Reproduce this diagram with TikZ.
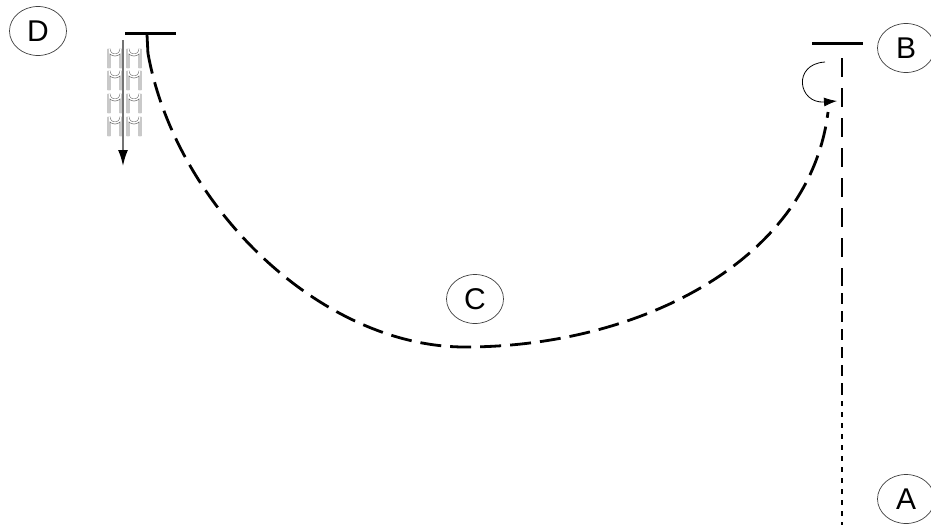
\documentclass[tikz,border=0pt]{standalone}
\usepackage{fontspec}
\setmainfont{Liberation Sans}
\usepackage{tikz}
\usetikzlibrary{arrows.meta,positioning,calc,shapes.geometric}
\tikzset{
  lab/.style={draw=black!75, ellipse, line width=0.7pt, minimum width=57pt, minimum height=49pt, inner sep=0pt, font=\fontsize{30}{30}\selectfont},
  bar/.style={line width=3pt},
  path/.style={line width=2.8pt, dash pattern=on 21pt off 9pt},
  archline/.style={black!60, line width=0.6pt, double=white, double distance=1.4pt}
}
\newcommand{\archpiece}[2]{
\draw[archline] (#1-6,#2+25) -- (#1-6,#2+6) arc (180:0:6) -- (#1+6,#2+25);
}

\begin{document}
\begin{tikzpicture}[x=1pt,y=-1pt]
\useasboundingbox (0,0) rectangle (931,525);
% labels
\node[lab] (D) at (38,31) {D};
\node[lab] (B) at (906,48) {B};
\node[lab] (C) at (475,299) {C};
\node[lab] (A) at (906,499) {A};
% holders
\draw[bar] (125,33) -- (176,33) coordinate[pos=0.43] (dtop);
\draw[bar] (812,43) -- (863,43) coordinate[pos=0.59] (btop);
% swing of the path
\coordinate (low) at (465,347);
\coordinate (rend) at (828,112);
\draw[line width=2.8pt] (dtop) -- ++(1,20) coordinate (dstart);
\draw[path] (dstart) .. controls (175,205) and (320,347) .. (low)
  .. controls (640,347) and (810,260) .. (rend);
% vertical drop
\coordinate (v1) at (842,58);
\coordinate (v2) at (842,275);
\coordinate (v3) at (842,390);
\coordinate (v4) at (842,525);
\draw[line width=2.8pt, dash pattern=on 19pt off 11pt] (v1) -- (v2);
\draw[line width=2.8pt, dash pattern=on 11pt off 7pt] (v2) -- (v3);
\draw[line width=2.8pt, dash pattern=on 5pt off 6pt] (v3) -- (v4);
% twist near B
\coordinate (t1) at (825,62);
\coordinate (t2) at (837,101);
\draw[line width=0.8pt, -{Latex[length=13pt,width=9pt]}] (t1) .. controls (792,64) and (798,104) .. (t2);
% folded piece near D
\foreach \cx in {115,134}{
  \foreach \cy in {43,65,88,111}{
    \archpiece{\cx}{\cy}
  }
}
\coordinate (fa) at (123,40);
\coordinate (fb) at (123,166);
\draw[black!55, line width=1.8pt, -{Latex[length=16pt,width=10pt,color=black]}] (fa) -- (fb);
\end{tikzpicture}
\end{document}
